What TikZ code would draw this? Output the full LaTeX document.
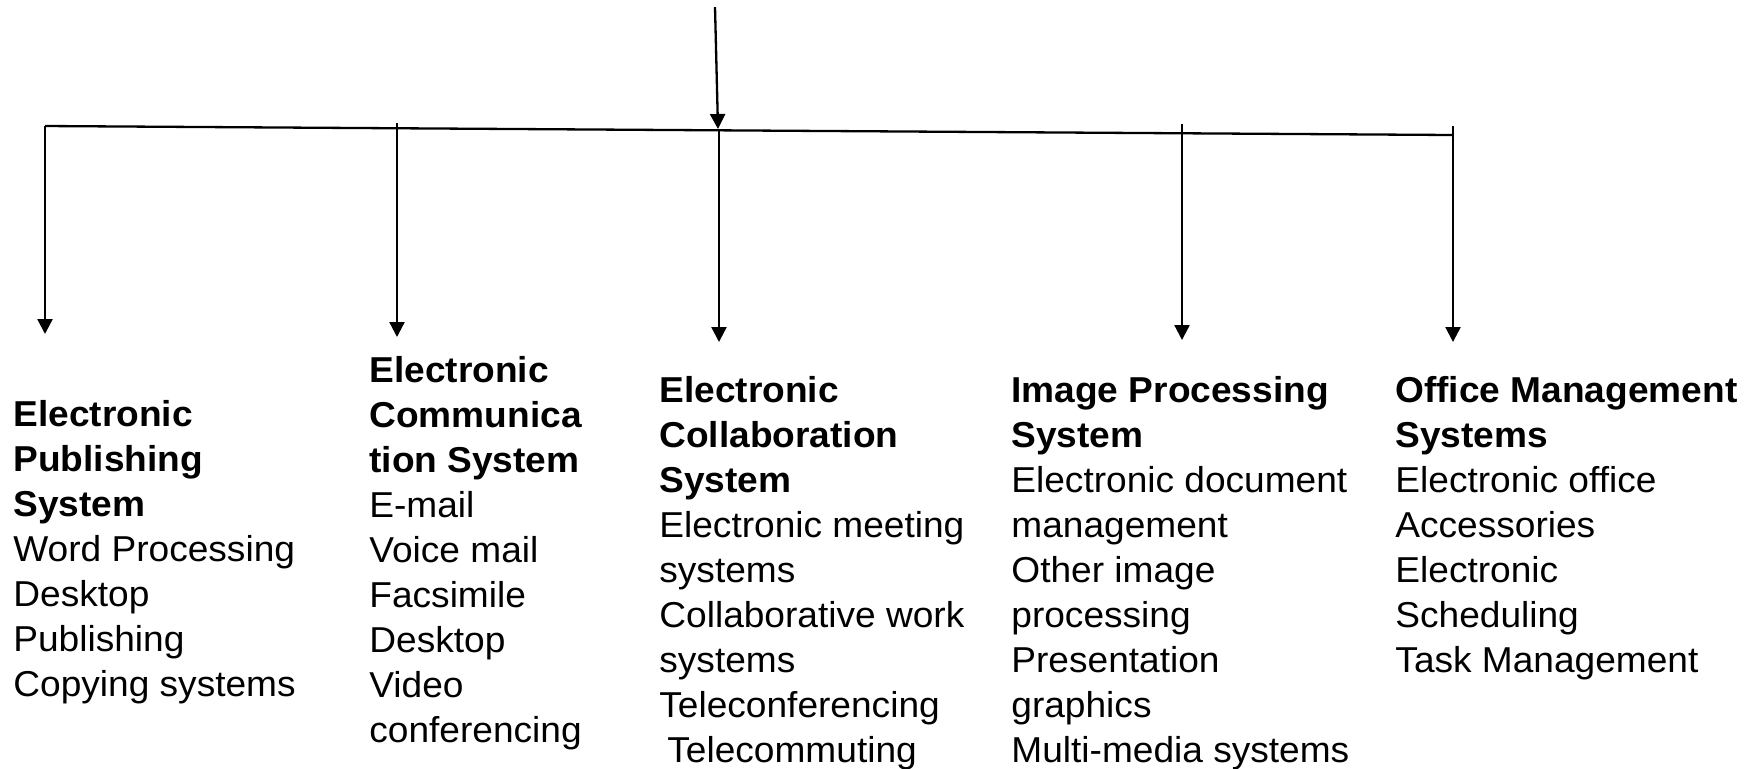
\documentclass[tikz,border=0pt]{standalone}
\usepackage{fontspec}
\setmainfont{Liberation Sans}[FakeStretch=1.03]
\usetikzlibrary{arrows.meta}
\begin{document}
\begin{tikzpicture}[x=0.5pt,y=-0.5pt,
  conn/.style={line width=1.15pt, black},
  arr/.style={conn, -{Triangle[length=7.5pt,width=7.5pt]}},
  col/.style={anchor=north west, inner sep=0pt, align=left, font=\fontsize{18}{22.5}\selectfont}]
\useasboundingbox (0,0) rectangle (1748,768);
% bus line
\coordinate (bL) at (45,126);
\coordinate (bR) at (1453,135);
\draw[conn] (bL) -- (bR);
% incoming arrow
\coordinate (src) at (715,7);
\coordinate (j3) at (718,129);
\draw[arr] (src) -- (j3);
% branch arrows
\coordinate (t1) at (45,126);   \coordinate (e1) at (45,334);
\coordinate (t2) at (397,123);  \coordinate (e2) at (397,337);
\coordinate (t3) at (719,129);  \coordinate (e3) at (719,342);
\coordinate (t4) at (1182,124); \coordinate (e4) at (1182,340);
\coordinate (t5) at (1453,126); \coordinate (e5) at (1453,342);
\draw[arr] (t1) -- (e1);
\draw[arr] (t2) -- (e2);
\draw[arr] (t3) -- (e3);
\draw[arr] (t4) -- (e4);
\draw[arr] (t5) -- (e5);
% texts
\node[col] (pub) at (13,400) {\textbf{Electronic}\\\textbf{Publishing}\\\textbf{System}\\Word Processing\\Desktop\\Publishing\\Copying systems};
\node[col] (comm) at (369,356) {\textbf{Electronic}\\\textbf{Communica}\\\textbf{tion System}\\E-mail\\Voice mail\\Facsimile\\Desktop\\Video\\conferencing};
\node[col] (collab) at (659,376) {\textbf{Electronic}\\\textbf{Collaboration}\\\textbf{System}\\Electronic meeting\\systems\\Collaborative work\\systems\\Teleconferencing\\\hspace*{4pt}Telecommuting};
\node[col] (image) at (1011,376) {\textbf{Image Processing}\\\textbf{System}\\Electronic document\\management\\Other image\\processing\\Presentation\\graphics\\Multi-media systems};
\node[col] (office) at (1395,376) {\textbf{Office Management}\\\textbf{Systems}\\Electronic office\\Accessories\\Electronic\\Scheduling\\Task Management};
\end{tikzpicture}
\end{document}
